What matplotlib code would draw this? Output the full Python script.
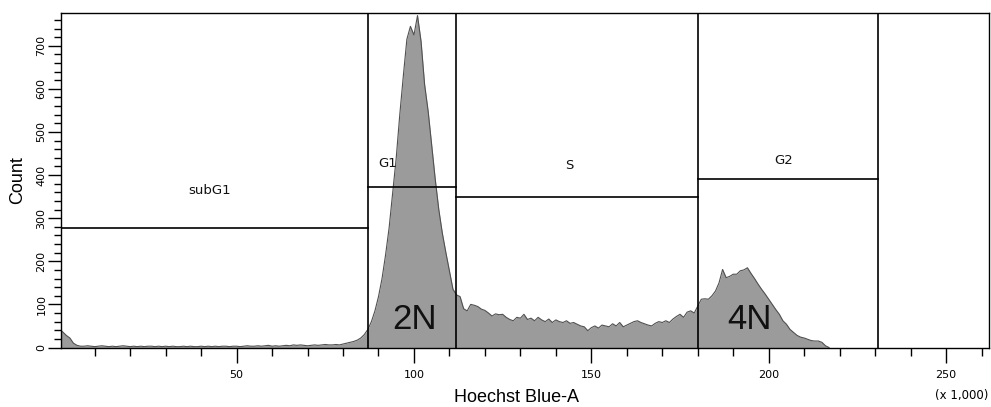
import numpy as np
import matplotlib
matplotlib.use("Agg")
import matplotlib.pyplot as plt
from matplotlib.ticker import MultipleLocator

# Histogram: counts per 1,000-unit channel, starting at 0
counts = [
    43, 36, 28, 22, 10, 5, 3, 3, 4, 3,
    2, 3, 4, 3, 2, 3, 2, 3, 4, 3,
    2, 3, 2, 3, 2, 3, 3, 2, 3, 2,
    3, 2, 3, 2, 2, 3, 2, 3, 2, 2,
    3, 2, 3, 2, 3, 2, 3, 3, 2, 3,
    3, 2, 3, 4, 3, 3, 4, 3, 4, 5,
    3, 4, 3, 4, 5, 4, 6, 5, 6, 5,
    4, 5, 6, 5, 6, 7, 6, 6, 7, 6,
    8, 10, 12, 14, 17, 22, 30, 42, 60, 85,
    118, 160, 215, 278, 360, 440, 540, 630, 715, 745,
    725, 770, 710, 610, 548, 470, 390, 320, 265, 220,
    178, 135, 122, 118, 90, 85, 100, 98, 95, 89,
    86, 80, 73, 78, 76, 77, 70, 65, 62, 70,
    68, 77, 65, 68, 62, 70, 64, 60, 66, 58,
    64, 60, 58, 62, 56, 58, 54, 50, 48, 39,
    46, 50, 45, 52, 50, 48, 55, 50, 58, 48,
    52, 56, 60, 62, 58, 55, 52, 50, 56, 60,
    58, 62, 58, 66, 72, 77, 70, 82, 85, 80,
    96, 112, 113, 112, 120, 131, 150, 181, 162, 165,
    170, 170, 178, 180, 185, 172, 160, 147, 135, 124,
    112, 100, 88, 77, 62, 54, 42, 35, 28, 24,
    22, 19, 16, 15, 15, 12, 4, 0,
]
channels = np.arange(len(counts))

# Gates: name, left, right, marker height, label x, label y
gate_names = ["subG1", "G1", "S", "G2"]
gate_left = [0.5, 87.0, 111.8, 180.0]
gate_right = [87.0, 111.8, 180.0, 230.9]
gate_level = [277, 372, 349, 391]
gate_label_x = [42.5, 92.6, 143.8, 204.2]
gate_label_y = [365, 428, 423, 433]

# Ploidy annotations
ploidy_text = ["2N", "4N"]
ploidy_x = [100.2, 194.6]
ploidy_y = [66, 66]

x_major = [50, 100, 150, 200, 250]
y_major = [0, 100, 200, 300, 400, 500, 600, 700]

fig = plt.figure(figsize=(9.91, 4.07), dpi=100)
ax = fig.add_axes([61 / 991, (407 - 347.5) / 407, (989 - 61) / 991, (347.5 - 13) / 407])

ax.fill_between(channels, counts, 0, color="#9b9b9b", linewidth=0, zorder=1)
ax.plot(channels, counts, color="#505050", linewidth=0.8, zorder=2)

for name, l, r, lev, lx, ly in zip(gate_names, gate_left, gate_right, gate_level,
                                    gate_label_x, gate_label_y):
    ax.plot([l, r], [lev, lev], color="black", linewidth=1.2, zorder=3)
    ax.text(lx, ly, name, ha="center", va="center", fontsize=9.5,
            family="DejaVu Sans", color="#111111", zorder=4)

for xv in sorted(set(gate_left[1:] + gate_right)):
    ax.axvline(xv, color="black", linewidth=1.2, zorder=3)

for t, px, py in zip(ploidy_text, ploidy_x, ploidy_y):
    ax.text(px, py, t, ha="center", va="center", fontsize=25,
            family="Liberation Sans", color="#111111", zorder=4)

ax.set_xlim(0.5, 262.1)
ax.set_ylim(0, 776)
ax.set_xticks(x_major)
ax.set_xticklabels([str(v) for v in x_major])
ax.set_yticks(y_major)
ax.set_yticklabels([str(v) for v in y_major])
ax.xaxis.set_minor_locator(MultipleLocator(10))
ax.yaxis.set_minor_locator(MultipleLocator(20))

ax.tick_params(axis="x", which="major", length=10.8, width=1, pad=5.5, labelsize=8)
ax.tick_params(axis="x", which="minor", length=5.8, width=1)
ax.tick_params(axis="y", which="major", length=9.4, width=1, pad=1, labelsize=8,
               labelrotation=90)
ax.tick_params(axis="y", which="minor", length=5.0, width=1)
for lab in ax.get_yticklabels():
    lab.set_va("center")

for s in ax.spines.values():
    s.set_linewidth(1.0)
    s.set_color("black")

fig.text(18 / 991, 1 - 180 / 407, "Count", rotation=90, ha="center", va="center",
         fontsize=13, family="Liberation Sans")
fig.text(516 / 991, 1 - 398 / 407, "Hoechst Blue-A", ha="center", va="center",
         fontsize=13, family="Liberation Sans")
fig.text(988 / 991, 1 - 395 / 407, "(x 1,000)", ha="right", va="center",
         fontsize=8.5, family="DejaVu Sans")

fig.savefig("out.png", dpi=100)
